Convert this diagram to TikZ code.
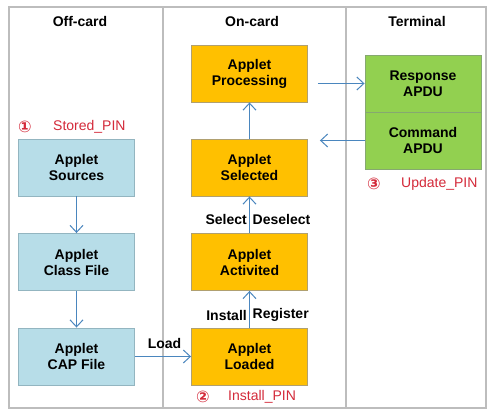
\documentclass[tikz,border=0pt]{standalone}
\usepackage{fontspec}
\setmainfont{Liberation Sans}
\newfontfamily\symfont{DejaVu Sans}
\usetikzlibrary{arrows.meta}
\definecolor{aquafill}{HTML}{B7DDE8}
\definecolor{aqualine}{HTML}{93B5C0}
\definecolor{goldfill}{HTML}{FFC000}
\definecolor{goldline}{HTML}{B0A070}
\definecolor{limefill}{HTML}{92D050}
\definecolor{limeline}{HTML}{86A870}
\definecolor{flowblue}{HTML}{4A86BE}
\definecolor{pinred}{HTML}{D42A3A}
\definecolor{framegrey}{HTML}{BDBDBD}
\tikzset{
  x=1pt, y=-1pt,
  box/.style={rectangle, line width=0.9pt, minimum width=116pt, minimum height=57pt,
    inner sep=0pt, align=center, font=\bfseries\fontsize{14}{16}\selectfont},
  offbox/.style={box, fill=aquafill, draw=aqualine},
  onbox/.style={box, fill=goldfill, draw=goldline},
  termbox/.style={box, fill=limefill, draw=limeline},
  flow/.style={draw=flowblue, line width=1pt,
    -{Straight Barb[length=7pt, width=13pt, line width=1pt]}},
  header/.style={font=\bfseries\fontsize{14}{16}\selectfont, inner sep=0pt},
  lbl/.style={font=\bfseries\fontsize{14}{16}\selectfont, inner sep=0pt},
  pin/.style={font=\fontsize{14}{16}\selectfont, text=pinred, inner sep=0pt},
  pinnum/.style={font=\symfont\bfseries\fontsize{16}{16}\selectfont, text=pinred, inner sep=0pt},
  frame/.style={draw=framegrey, line width=1.4pt}
}
\begin{document}
\begin{tikzpicture}
\useasboundingbox (0,0) rectangle (488,411);
\fill[white] (0,0) rectangle (488,411);

% outer frame and column dividers
\draw[frame] (9,7) rectangle (486,408);
\draw[frame] (163,7) -- (163,408);
\draw[frame] (346,7) -- (346,408);

% column headings
\node[header] (hoff)  at (80,22)  {Off-card};
\node[header] (hon)   at (252,22) {On-card};
\node[header] (hterm) at (417,22) {Terminal};

% off-card build chain
\node[offbox] (src) at (76.5,167.5) {Applet\\Sources};
\node[offbox] (cls) at (76.5,262)   {Applet\\Class File};
\node[offbox] (cap) at (76.5,356.5) {Applet\\CAP File};

% on-card life cycle
\node[onbox] (proc) at (249.5,73.5)  {Applet\\Processing};
\node[onbox] (sel)  at (249.5,167.5) {Applet\\Selected};
\node[onbox] (act)  at (249.5,262)   {Applet\\Activited};
\node[onbox] (ldd)  at (249.5,356.5) {Applet\\Loaded};

% terminal APDUs
\node[termbox] (resp) at (423,83.5)  {Response\\APDU};
\node[termbox] (cmd)  at (423,140.5) {Command\\APDU};

% connectors
\draw[flow] (src.south) -- (cls.north);
\draw[flow] (cls.south) -- (cap.north);
\draw[flow] (cap.east) -- (ldd.west);
\draw[flow] (ldd.north) -- (act.south);
\draw[flow] (act.north) -- (sel.south);
\draw[flow] (sel.north) -- (proc.south);
\draw[flow, shorten <=10pt] (proc.east |- resp.west) -- (resp.west);
\draw[flow, shorten >=12pt] (cmd.west) -- (sel.east |- cmd.west);

% transition labels
\node[lbl] (load) at (164.5,343) {Load};
\node[lbl, anchor=east] (inst) at (247,315) {Install};
\node[lbl, anchor=west] (reg)  at (252.5,315) {Register};
\node[lbl, anchor=east] (slct) at (247,219) {Select};
\node[lbl, anchor=west] (dsel) at (252.5,219) {Deselect};

% PIN annotations
\node[pinnum] (n1) at (25,127)  {①};
\node[pin, anchor=west] (p1) at (53,127)  {Stored\_PIN};
\node[pinnum] (n2) at (203,397) {②};
\node[pin, anchor=west] (p2) at (228,397) {Install\_PIN};
\node[pinnum] (n3) at (374,184) {③};
\node[pin, anchor=west] (p3) at (401,184) {Update\_PIN};
\end{tikzpicture}
\end{document}
